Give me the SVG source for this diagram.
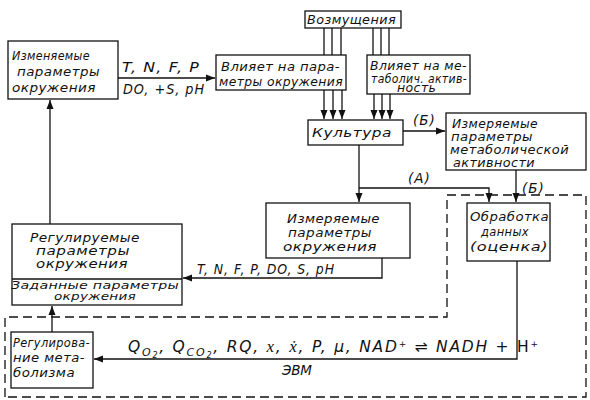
<svg xmlns="http://www.w3.org/2000/svg" width="590" height="400" viewBox="0 0 590 400">
<defs>
<marker id="ah" markerWidth="10" markerHeight="8" refX="9" refY="4" orient="auto" markerUnits="userSpaceOnUse">
<path d="M0,0.5 L9,4 L0,7.5 Z" fill="#111"/>
</marker>
<style>
.box{fill:#fff;stroke:#111;stroke-width:1.3}
.ln{fill:none;stroke:#111;stroke-width:1.3}
.dash{fill:none;stroke:#111;stroke-width:1.3;stroke-dasharray:9,5}
text{font-family:"DejaVu Sans","Liberation Sans",sans-serif;font-style:italic;font-size:12.5px;letter-spacing:0.4px;fill:#111}
.lb{font-size:13.5px;letter-spacing:1px}
.q{font-size:15.5px;letter-spacing:0}
.sub{font-size:11px}
.sm{font-size:10.5px;letter-spacing:0.2px}
.ct{text-anchor:middle}
</style>
</defs>
<rect width="590" height="400" fill="#fff"/>

<g id="connectors">
<path class="dash" d="M5,397 L5,317 L447,317 L447,195 L586,195 L586,397 Z"/>
<line class="ln" x1="118" y1="78" x2="215" y2="78" marker-end="url(#ah)"/>
<line class="ln" x1="324" y1="28" x2="324" y2="55"/>
<line class="ln" x1="332" y1="28" x2="332" y2="55"/>
<line class="ln" x1="341" y1="28" x2="341" y2="55"/>
<line class="ln" x1="373" y1="28" x2="373" y2="55"/>
<line class="ln" x1="381" y1="28" x2="381" y2="55"/>
<line class="ln" x1="389" y1="28" x2="389" y2="55"/>
<line class="ln" x1="324" y1="90" x2="324" y2="119" marker-end="url(#ah)"/>
<line class="ln" x1="333" y1="90" x2="333" y2="119" marker-end="url(#ah)"/>
<line class="ln" x1="342" y1="90" x2="342" y2="119" marker-end="url(#ah)"/>
<line class="ln" x1="374" y1="94" x2="374" y2="119" marker-end="url(#ah)"/>
<line class="ln" x1="382" y1="94" x2="382" y2="119" marker-end="url(#ah)"/>
<line class="ln" x1="390" y1="94" x2="390" y2="119" marker-end="url(#ah)"/>
<line class="ln" x1="403" y1="131" x2="445" y2="131" marker-end="url(#ah)"/>
<line class="ln" x1="359" y1="145" x2="359" y2="202" marker-end="url(#ah)"/>
<path class="ln" d="M359,188 L489,188 L489,202" marker-end="url(#ah)"/>
<line class="ln" x1="516" y1="170" x2="516" y2="202" marker-end="url(#ah)"/>
<path class="ln" d="M382,258 L382,278 L183,278" marker-end="url(#ah)"/>
<line class="ln" x1="50" y1="224" x2="50" y2="100" marker-end="url(#ah)"/>
<line class="ln" x1="52" y1="332" x2="52" y2="306" marker-end="url(#ah)"/>
<path class="ln" d="M517,261 L517,359 L94,359" marker-end="url(#ah)"/>
<text class="lb" x="122" y="72" textLength="78" lengthAdjust="spacingAndGlyphs">T, N, F, P</text>
<text class="lb" x="123" y="94" textLength="82" lengthAdjust="spacingAndGlyphs">DO, +S, pH</text>
<text class="lb" x="413" y="125">(Б)</text>
<text class="lb" x="408" y="183">(A)</text>
<text class="lb" x="522" y="193">(Б)</text>
<text class="lb" x="197" y="274" textLength="138" lengthAdjust="spacingAndGlyphs">T, N, F, P, DO, S, pH</text>
<text class="q" x="128" y="352" textLength="410" lengthAdjust="spacing">Q<tspan class="sub" dy="4">O<tspan font-size="8" dy="2">2</tspan></tspan><tspan dy="-6">, Q</tspan><tspan class="sub" dy="4">CO<tspan font-size="8" dy="2">2</tspan></tspan><tspan dy="-6">, RQ, </tspan><tspan font-family="Liberation Serif,serif" font-size="17">x</tspan>, <tspan font-family="Liberation Serif,serif" font-size="17">ẋ</tspan>, P, μ, NAD<tspan font-size="9" dy="-5">+</tspan><tspan dy="5"> ⇌ NADH + </tspan><tspan font-style="normal">H</tspan><tspan font-size="9" dy="-5">+</tspan></text>
<text class="lb" x="282" y="375" textLength="31">ЭВМ</text>
</g>

<g id="n1"><rect class="box" x="8" y="41" width="110" height="58"/>
<text x="12" y="60" textLength="78" lengthAdjust="spacingAndGlyphs">Изменяемые</text><text x="17" y="76" textLength="83" lengthAdjust="spacingAndGlyphs">параметры</text><text x="12" y="92" textLength="84" lengthAdjust="spacingAndGlyphs">окружения</text></g>

<g id="n2"><rect class="box" x="216" y="55" width="130" height="35"/>
<text x="221" y="71" textLength="119" lengthAdjust="spacingAndGlyphs">Влияет на пара-</text><text x="219" y="86" textLength="124" lengthAdjust="spacingAndGlyphs">метры окружения</text></g>

<g id="n3"><rect class="box" x="305" y="11" width="96" height="17"/>
<text x="307" y="24" textLength="89" lengthAdjust="spacingAndGlyphs">Возмущения</text></g>

<g id="n4"><rect class="box" x="367" y="55" width="103" height="39"/>
<text x="370" y="70" textLength="97" lengthAdjust="spacingAndGlyphs">Влияет на ме-</text><text x="371" y="83" font-size="11" textLength="96" lengthAdjust="spacingAndGlyphs">таболич. актив-</text><text x="397" y="92" font-size="8">ность</text></g>

<g id="n5"><rect class="box" x="308" y="120" width="95" height="25"/>
<text x="312" y="137" textLength="80" lengthAdjust="spacingAndGlyphs">Культура</text></g>

<g id="n6"><rect class="box" x="446" y="113" width="140" height="57"/>
<text x="452" y="128" font-size="12" textLength="86" lengthAdjust="spacingAndGlyphs">Измеряемые</text><text x="451" y="141" font-size="12" textLength="82" lengthAdjust="spacingAndGlyphs">параметры</text><text x="450" y="154" font-size="12" textLength="119" lengthAdjust="spacingAndGlyphs">метаболической</text><text x="453" y="167" font-size="12" textLength="82" lengthAdjust="spacingAndGlyphs">активности</text></g>

<g id="n7"><rect class="box" x="266" y="203" width="144" height="55"/>
<text x="287" y="223" textLength="93" lengthAdjust="spacingAndGlyphs">Измеряемые</text><text x="288" y="237" textLength="84" lengthAdjust="spacingAndGlyphs">параметры</text><text x="283" y="251" textLength="94" lengthAdjust="spacingAndGlyphs">окружения</text></g>

<g id="n8"><rect class="box" x="467" y="203" width="83" height="58"/>
<text x="470" y="221" textLength="79" lengthAdjust="spacingAndGlyphs">Обработка</text><text x="481" y="236" textLength="48" lengthAdjust="spacingAndGlyphs">данных</text><text x="470" y="251" textLength="78" lengthAdjust="spacingAndGlyphs">(оценка)</text></g>

<g id="n9"><rect class="box" x="12" y="224" width="170" height="81"/>
<line class="ln" x1="12" y1="279" x2="182" y2="279"/>
<text x="30" y="242" textLength="110" lengthAdjust="spacingAndGlyphs">Регулируемые</text><text x="36" y="255" textLength="94" lengthAdjust="spacingAndGlyphs">параметры</text><text x="36" y="268" textLength="92" lengthAdjust="spacingAndGlyphs">окружения</text>
<text class="sm" x="11" y="289" textLength="168" lengthAdjust="spacingAndGlyphs">Заданные параметры</text><text class="sm ct" x="95" y="300" textLength="82" lengthAdjust="spacingAndGlyphs">окружения</text></g>

<g id="n10"><rect class="box" x="11" y="332" width="82" height="56"/>
<text x="13" y="347" textLength="77" lengthAdjust="spacingAndGlyphs">Регулирова-</text><text x="13" y="362" textLength="72" lengthAdjust="spacingAndGlyphs">ние мета-</text><text x="13" y="377" textLength="62" lengthAdjust="spacingAndGlyphs">болизма</text></g>
</svg>
